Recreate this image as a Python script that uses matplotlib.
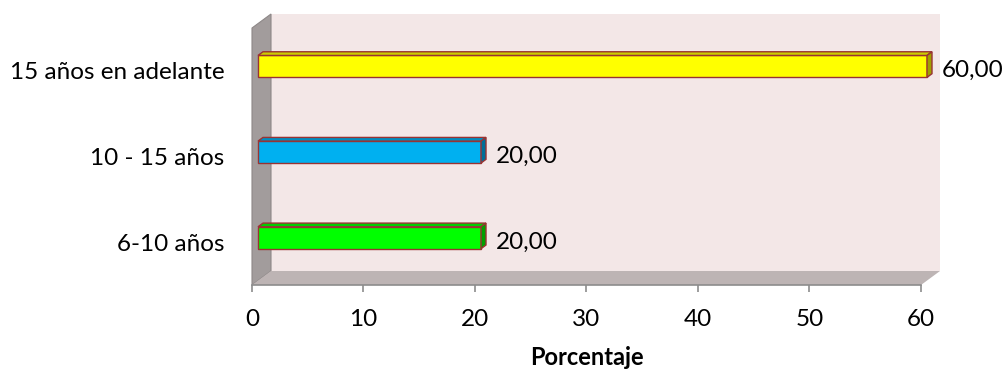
import matplotlib
matplotlib.use("Agg")
import matplotlib.pyplot as plt
from matplotlib.patches import Polygon
from matplotlib.transforms import IdentityTransform

categories = ["6-10 años", "10 - 15 años", "15 años en adelante"]
values = [20.0, 20.0, 60.0]
value_labels = ["20,00", "20,00", "60,00"]
xticks = [0, 10, 20, 30, 40, 50, 60]
xlabel = "Porcentaje"

face_colors = ["#00FF00", "#00B0F0", "#FFFF00"]
top_colors = ["#00CC00", "#008DC0", "#CCCC00"]
side_colors = ["#00A000", "#006F98", "#A0A000"]
edge_color = "#993333"

plt.rcParams['font.family'] = ['Lato', 'DejaVu Sans']
FS = 17.5

W, H = 1004, 371
fig = plt.figure(figsize=(W / 100, H / 100), dpi=100)
x0, x1 = 252, 921
ytop, ybot = 28, 285
ax = fig.add_axes([x0 / W, (H - ybot) / H, (x1 - x0) / W, (ybot - ytop) / H])
ax.set_xlim(0, 60)
ax.set_ylim(-0.5, 2.5)
ax.patch.set_visible(False)
for s in ax.spines.values():
    s.set_visible(False)

# depth in pixels (full depth of chart box)
DX, DY = 19.0, 14.0
fig.canvas.draw()


def P(x, y, d):
    """data point (x,y) pushed back by fraction d of full depth -> display."""
    px, py = ax.transData.transform((x, y))
    return (px + DX * d, py + DY * d)


def poly(pts, fc, ec, lw=0.8, z=1):
    ax.add_patch(Polygon(pts, closed=True, facecolor=fc, edgecolor=ec,
                         linewidth=lw, transform=IdentityTransform(),
                         zorder=z, clip_on=False))


ymin, ymax = ax.get_ylim()
xmin, xmax = ax.get_xlim()
# back wall
poly([P(xmin, ymin, 1), P(xmax, ymin, 1), P(xmax, ymax, 1), P(xmin, ymax, 1)],
     "#F3E7E7", "none", z=0.5)
# side wall
poly([P(xmin, ymin, 0), P(xmin, ymin, 1), P(xmin, ymax, 1), P(xmin, ymax, 0)],
     "#A29C9C", "#8E8888", lw=0.8, z=0.6)
# floor
poly([P(xmin, ymin, 0), P(xmax, ymin, 0), P(xmax, ymin, 1), P(xmin, ymin, 1)],
     "#BDB4B4", "none", z=0.6)

# bars
bh = 0.128
d0, d1 = 6 / DX, 11 / DX
for i, v in enumerate(values):
    yb, yt = i - bh, i + bh
    # front face
    poly([P(0, yb, d0), P(v, yb, d0), P(v, yt, d0), P(0, yt, d0)],
         face_colors[i], edge_color, lw=1.0, z=3)
    # top face
    poly([P(0, yt, d0), P(v, yt, d0), P(v, yt, d1), P(0, yt, d1)],
         top_colors[i], edge_color, lw=1.0, z=3)
    # right face
    poly([P(v, yb, d0), P(v, yb, d1), P(v, yt, d1), P(v, yt, d0)],
         side_colors[i], edge_color, lw=1.0, z=3)
    ax.annotate(value_labels[i], xy=(v, i), xytext=(21, 0),
                textcoords="offset pixels", ha="left", va="center",
                fontsize=FS, color="black", annotation_clip=False)

# front axis line
ax.axhline(ymin, color="#8C8C8C", lw=1.2, zorder=2, clip_on=False)
ax.set_xticks(xticks)
ax.set_xticklabels([str(t) for t in xticks], fontsize=FS)
ax.tick_params(axis="x", length=5, width=1.2, color="#8C8C8C", pad=12)
ax.set_yticks(range(len(categories)))
ax.set_yticklabels(categories, fontsize=FS)
ax.tick_params(axis="y", length=0, pad=20)
ax.set_xlabel(xlabel, fontsize=17, fontweight="bold", labelpad=12)

fig.savefig("out.png", dpi=100)
